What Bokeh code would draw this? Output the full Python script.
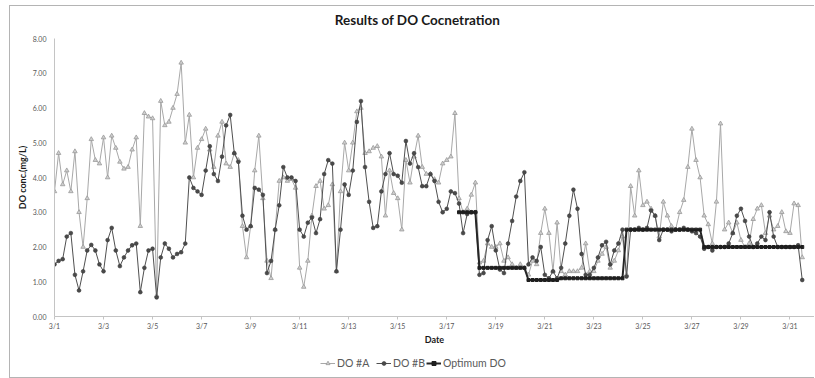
import numpy as np
from bokeh.plotting import figure
from bokeh.layouts import column
from bokeh.models import FixedTicker, Legend, LegendItem, Range1d, PrintfTickFormatter, Label
from bokeh.embed import file_html
from bokeh.resources import INLINE

# Readings every 4 hours from 3/1 00:00 (one row = one day: 0h,4h,8h,12h,16h,20h)
STEP_HOURS = 4
do_a = [
    3.6, 4.7, 3.8, 4.2, 3.6, 4.75,
    3.0, 2.0, 3.4, 5.1, 4.5, 4.4,
    5.15, 4.0, 5.2, 4.85, 4.45, 4.25,
    4.3, 4.8, 5.15, 2.6, 5.85, 5.75,
    5.7, 0.6, 6.2, 5.5, 5.6, 6.0,
    6.4, 7.3, 5.0, 5.8, 4.0, 4.85,
    5.1, 5.4, 4.8, 4.3, 5.2, 5.6,
    4.4, 4.3, 4.7, 4.5, 2.6, 1.7,
    2.6, 4.2, 5.2, 3.4, 1.6, 1.1,
    2.5, 3.9, 4.0, 3.9, 3.95, 3.7,
    1.4, 0.85, 1.6, 2.9, 3.75, 3.9,
    3.1, 3.2, 3.8, 1.3, 3.6, 5.0,
    4.2, 5.0, 5.9, 6.0, 4.7, 4.75,
    4.85, 4.9, 4.6, 2.9, 4.2, 3.55,
    3.4, 2.5, 4.5, 3.85, 4.6, 5.2,
    4.3, 4.1, 4.1, 3.95, 3.85, 4.4,
    4.5, 4.6, 5.85, 3.4, 3.0, 3.1,
    3.5, 3.85, 1.55, 1.6, 2.1, 2.0,
    2.0, 2.1, 1.6, 1.7, 1.5, 1.4,
    1.5, 1.4, 1.2, 1.6, 1.5, 2.4,
    3.1, 2.4, 1.3, 2.7, 1.3, 1.2,
    1.3, 1.3, 1.3, 1.4, 2.1, 1.3,
    1.3, 1.6, 1.8, 2.0, 1.4, 1.6,
    1.9, 2.3, 1.2, 3.75, 2.9, 4.2,
    3.2, 3.3, 3.1, 2.9, 2.3, 3.3,
    2.9, 2.6, 2.5, 3.0, 3.35, 4.3,
    5.4, 4.5, 4.0, 2.9, 2.65, 2.1,
    3.3, 5.55, 2.5, 2.7, 2.4, 2.7,
    2.2, 2.0, 2.1, 2.8, 3.1, 3.2,
    2.4, 2.9, 2.5, 2.6, 3.0, 2.45,
    2.4, 3.25, 3.2, 1.7,
]
do_b = [
    1.5, 1.6, 1.65, 2.3, 2.4, 1.2,
    0.75, 1.3, 1.9, 2.06, 1.9, 1.5,
    1.3, 2.2, 2.55, 1.9, 1.45, 1.7,
    1.9, 2.05, 2.1, 0.7, 1.4, 1.9,
    1.95, 0.55, 1.7, 2.1, 1.95, 1.7,
    1.8, 1.85, 2.1, 4.0, 3.7, 3.6,
    3.5, 4.2, 4.9, 4.1, 3.9, 4.6,
    5.5, 5.8, 4.7, 4.45, 2.9, 2.5,
    2.6, 3.7, 3.65, 3.5, 1.25, 1.6,
    2.5, 3.2, 4.3, 4.0, 4.0, 3.9,
    2.5, 2.3, 2.7, 2.85, 2.4, 2.8,
    4.1, 4.5, 4.4, 1.3, 2.5, 3.8,
    3.5, 4.2, 5.6, 6.2, 4.3, 3.3,
    2.55, 2.6, 3.6, 4.1, 4.7, 4.1,
    4.05, 3.85, 5.05, 4.4, 4.7, 4.3,
    3.75, 3.75, 4.1, 3.9, 3.3, 3.0,
    3.1, 3.6, 3.55, 3.25, 2.4, 2.95,
    3.0, 3.0, 1.2, 1.25, 2.2, 2.6,
    1.9, 1.35, 1.25, 2.1, 2.75, 3.45,
    3.9, 4.15, 1.5, 1.7, 1.6, 2.0,
    1.2, 1.1, 1.3, 1.1, 1.4, 2.1,
    2.9, 3.65, 3.1, 1.8, 1.2, 1.2,
    1.4, 1.7, 2.05, 2.15, 1.5, 1.9,
    2.1, 2.5, 1.15, 2.5, 2.5, 2.55,
    2.5, 2.55, 3.05, 2.9, 2.2, 2.5,
    2.5, 2.45, 2.5, 2.5, 2.55, 2.5,
    2.45, 2.4, 2.3, 1.95, 2.0, 1.9,
    2.0, 2.0, 2.0, 2.1, 2.4, 2.9,
    3.1, 2.75, 2.3, 2.0, 2.1, 2.3,
    2.2, 3.0, 2.3, 2.0, 2.0, 2.0,
    2.0, 2.0, 2.05, 1.05,
]
opt_do = [None] * 99 + [
    3.0, 3.0, 3.0,
    3.0, 3.0, 1.4, 1.4, 1.4, 1.4,
    1.4, 1.4, 1.4, 1.4, 1.4, 1.4,
    1.4, 1.4, 1.05, 1.05, 1.05, 1.05,
    1.05, 1.05, 1.05, 1.05, 1.1, 1.1,
    1.1, 1.1, 1.1, 1.1, 1.1, 1.1,
    1.1, 1.1, 1.1, 1.1, 1.1, 1.1,
    1.1, 1.1, 2.5, 2.5, 2.5, 2.5,
    2.5, 2.5, 2.5, 2.5, 2.5, 2.5,
    2.5, 2.5, 2.5, 2.5, 2.5, 2.5,
    2.5, 2.5, 2.5, 2.0, 2.0, 2.0,
    2.0, 2.0, 2.0, 2.0, 2.0, 2.0,
    2.0, 2.0, 2.0, 2.0, 2.0, 2.0,
    2.0, 2.0, 2.0, 2.0, 2.0, 2.0,
    2.0, 2.0, 2.0, 2.0,
]
tick_days = [0, 2, 4, 6, 8, 10, 12, 14, 16, 18, 20, 22, 24, 26, 28, 30]
tick_labels = ["3/1", "3/3", "3/5", "3/7", "3/9", "3/11", "3/13", "3/15",
               "3/17", "3/19", "3/21", "3/23", "3/25", "3/27", "3/29", "3/31"]
y_ticks = [0, 1, 2, 3, 4, 5, 6, 7, 8]
series_names = ["DO #A", "DO #B", "Optimum DO"]
title_text = "Results of DO Cocnetration"

t = np.arange(len(do_a)) * STEP_HOURS / 24.0
a = np.array(do_a, dtype=float)
b = np.array(do_b, dtype=float)
o = np.array([np.nan if v is None else v for v in opt_do], dtype=float)

FONT = "Lato"
W = 804
STYLE_A = dict(line=dict(line_color="#a8a8a8", line_width=1),
               mark=dict(marker="triangle", size=4.5, line_color="#999999", fill_color="#cfcfcf", line_width=0.8))
STYLE_B = dict(line=dict(line_color="#505050", line_width=1),
               mark=dict(marker="circle", size=3.8, line_color="#3a3a3a", fill_color="#4a4a4a", line_width=0.6))
STYLE_O = dict(line=dict(line_color="#262626", line_width=2),
               mark=dict(marker="square", size=3, line_color="#1f1f1f", fill_color="#1f1f1f"))


def blank(height, xr=(0, 1), yr=(0, 1)):
    f = figure(width=W, height=height, output_backend="svg", toolbar_location=None,
               x_range=Range1d(*xr), y_range=Range1d(*yr), min_border=0,
               background_fill_color="white", border_fill_color="white")
    f.title_location = None
    f.axis.visible = False
    f.grid.visible = False
    f.outline_line_color = None
    return f


# --- title strip (screen x is measured from the aligned frame left) ---
tf = blank(26)
tf.add_layout(Label(x=363, y=13, x_units="screen", y_units="screen", text=title_text,
                    text_align="center", text_baseline="middle", text_font=FONT,
                    text_font_style="bold", text_font_size="13.5px", text_color="#1a1a1a"))

# --- main chart ---
p = figure(width=W, height=319, output_backend="svg", toolbar_location=None,
           x_range=Range1d(0, 31), y_range=Range1d(0, 8),
           min_border_left=44, min_border_right=0, min_border_top=6, min_border_bottom=35,
           background_fill_color="white", border_fill_color="white")
p.title_location = None
p.outline_line_color = None
p.xgrid.visible = False
p.ygrid.visible = False

xa = p.xaxis[0]
xa.ticker = FixedTicker(ticks=tick_days)
xa.major_label_overrides = {d: l for d, l in zip(tick_days, tick_labels)}
xa.axis_label = "Date"
ya = p.yaxis[0]
ya.ticker = FixedTicker(ticks=y_ticks)
ya.formatter = PrintfTickFormatter(format="%.2f")
ya.axis_label = "DO conc.(mg/L)"
for ax in (xa, ya):
    ax.axis_line_color = "#c4c4c4"
    ax.major_tick_line_color = "#c4c4c4"
    ax.minor_tick_line_color = None
    ax.major_label_text_font = FONT
    ax.major_label_text_font_size = "7px"
    ax.major_label_text_color = "#595959"
    ax.axis_label_text_font = FONT
    ax.axis_label_text_font_style = "bold"
    ax.axis_label_text_font_size = "9px"
    ax.axis_label_text_color = "#1a1a1a"
xa.major_tick_in = 0
xa.major_tick_out = 3
xa.major_label_standoff = 2
xa.axis_label_standoff = 1
ya.major_tick_in = 0
ya.major_tick_out = 0
ya.major_label_standoff = 8
ya.axis_label_standoff = 2

series = ((a, STYLE_A), (b, STYLE_B), (o, STYLE_O))
for y, st in series:
    p.line(t, y, **st["line"])
    p.scatter(t, y, **st["mark"])

# --- legend strip: same data, view range kept away from it so only the legend shows ---
lf = blank(26, xr=(-20, -19), yr=(-20, -19))
legend_x = [266, 322, 372]
for name, (y, st), lx in zip(series_names, series, legend_x):
    rl = lf.line(t, y, **st["line"])
    rm = lf.scatter(t, y, **st["mark"])
    lf.add_layout(Legend(items=[LegendItem(label=name, renderers=[rl, rm])],
                         orientation="horizontal", location=(lx, 8),
                         border_line_color=None, background_fill_alpha=0,
                         label_text_font=FONT, label_text_font_size="10.5px",
                         label_text_color="#595959",
                         glyph_width=15, glyph_height=10, label_standoff=2, spacing=0,
                         padding=0, margin=0, label_height=12))

page = column(tf, p, lf, spacing=0)
page.margin = (5, 0, 0, 9)
page.styles = {"border-left": "1px solid #b4b4b4", "border-top": "1px solid #b4b4b4",
               "border-bottom": "1px solid #b4b4b4"}

open("out.html", "w").write(file_html(page, INLINE))
